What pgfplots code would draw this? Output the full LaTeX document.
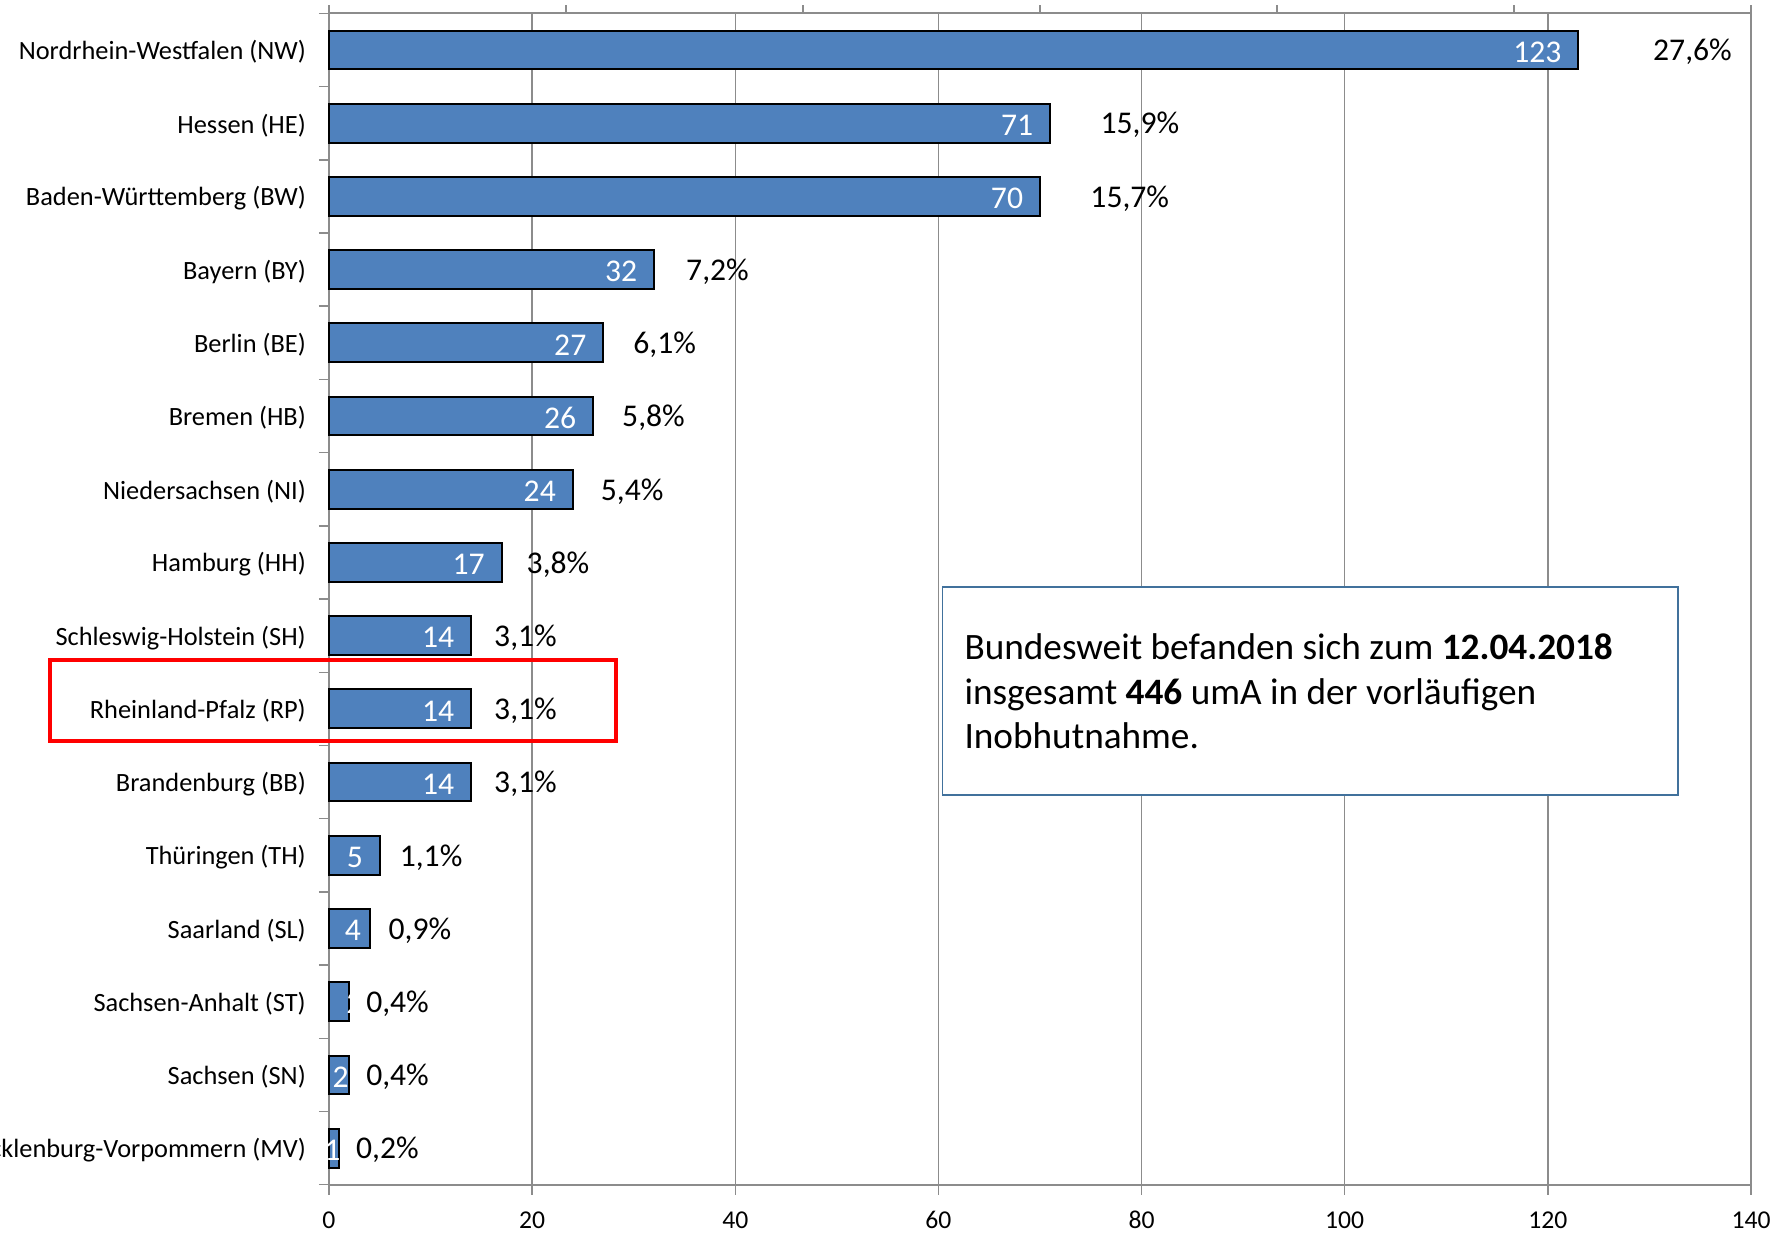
\documentclass[border=0pt]{standalone}
\usepackage{pgfplots}
\pgfplotsset{compat=1.18}
\usepackage{pgfplotstable}
\usepackage{fontspec}
\setmainfont{Carlito}
\definecolor{barblue}{HTML}{4F81BD}
\definecolor{gridgray}{HTML}{8C8C8C}
\definecolor{boxblue}{HTML}{41719C}

\pgfplotstableread{
idx val valx pct pctx
0 123 121.4 27,6\% 130.3
1 71 69.4 15,9\% 75.9
2 70 68.4 15,7\% 74.9
3 32 30.4 7,2\% 35.1
4 27 25.4 6,1\% 29.9
5 26 24.4 5,8\% 28.8
6 24 22.4 5,4\% 26.7
7 17 15.4 3,8\% 19.4
8 14 12.4 3,1\% 16.2
9 14 12.4 3,1\% 16.2
10 14 12.4 3,1\% 16.2
11 5 3.4 1,1\% 6.9
12 4 3.2 0,9\% 5.8
13 2 3.35 0,4\% 3.6
14 2 2.0 0,4\% 3.6
15 1 1.2 0,2\% 2.6
}\datatable

\begin{document}
\begin{tikzpicture}
\begin{axis}[
  at={(0,0)}, anchor=south west, scale only axis,
  width=142.2mm, height=117.13mm,
  xmin=0, xmax=140, ymin=-0.5, ymax=15.5, y dir=reverse,
  axis x line*=bottom, axis y line*=left,
  axis line style={draw=gridgray, line width=0.22mm},
  xtick={0,20,...,140},
  xmajorgrids, ymajorgrids=false,
  grid style={draw=gridgray, line width=0.15mm},
  tick align=outside,
  major tick length=1.0mm,
  tick style={draw=gridgray, line width=0.15mm},
  ytick={-0.5,0.5,...,15.5}, yticklabels={},
  extra y ticks={0,1,...,15},
  extra y tick labels={Nordrhein-Westfalen (NW),Hessen (HE),Baden-Württemberg (BW),Bayern (BY),Berlin (BE),Bremen (HB),Niedersachsen (NI),Hamburg (HH),Schleswig-Holstein (SH),Rheinland-Pfalz (RP),Brandenburg (BB),Thüringen (TH),Saarland (SL),Sachsen-Anhalt (ST),Sachsen (SN),Mecklenburg-Vorpommern (MV)},
  extra y tick style={tick style={draw=none}, yticklabel style={font=\fontsize{7.5}{9}\selectfont, inner sep=0pt, anchor=east, xshift=-1.25mm, yshift=-0.2mm}},
  xticklabel style={font=\fontsize{7.3}{8}\selectfont, inner sep=0pt, anchor=north, yshift=-1.6mm},
  /pgf/number format/assume math mode=true,
  clip=false,
]
\addplot[xbar, bar width=0.53, fill=barblue, draw=black, line width=0.2mm]
  table[x=val, y=idx] {\datatable};
\addplot[draw=none, mark=none, nodes near coords, point meta=explicit symbolic,
  nodes near coords align={anchor=east},
  every node near coord/.append style={anchor=east, inner sep=0pt, text=white, font=\fontsize{9}{10}\selectfont, yshift=-0.2mm}]
  table[x=valx, y=idx, meta=val] {\datatable};
\addplot[draw=none, mark=none, nodes near coords, point meta=explicit symbolic,
  nodes near coords align={anchor=west},
  every node near coord/.append style={anchor=west, inner sep=0pt, text=black, font=\fontsize{9}{10}\selectfont, yshift=-0.2mm}]
  table[x=pctx, y=idx, meta=pct] {\datatable};
\draw[boxblue, fill=white, line width=0.18mm] (axis cs:60.4,7.33) rectangle (axis cs:132.8,10.18);
\node[anchor=base west, inner sep=0pt, font=\fontsize{10.6}{12.6}\selectfont] at (axis cs:62.5,8.33) {Bundesweit befanden sich zum \textbf{12.04.2018}};
\node[anchor=base west, inner sep=0pt, font=\fontsize{10.6}{12.6}\selectfont] at (axis cs:62.5,8.94) {insgesamt \textbf{446} umA in der vorläufigen};
\node[anchor=base west, inner sep=0pt, font=\fontsize{10.6}{12.6}\selectfont] at (axis cs:62.5,9.54) {Inobhutnahme.};
\draw[red, line width=0.4mm] (axis cs:-27.5,8.33) rectangle (axis cs:28.3,9.44);
\end{axis}
\begin{axis}[
  at={(0,0)}, anchor=south west, scale only axis,
  width=142.2mm, height=117.13mm,
  xmin=0, xmax=6, ymin=0, ymax=1,
  axis x line*=top, axis y line=none,
  xtick={0,...,6}, xticklabels={},
  tick align=outside, major tick length=0.83mm,
  axis line style={draw=gridgray, line width=0.22mm},
  tick style={draw=gridgray, line width=0.15mm},
]
\addplot[draw=none] coordinates {(0,0)};
\end{axis}
\pgfresetboundingbox
\path (-32.9mm,-4.8mm) rectangle (145.8mm,118.47mm);
\end{tikzpicture}
\end{document}
